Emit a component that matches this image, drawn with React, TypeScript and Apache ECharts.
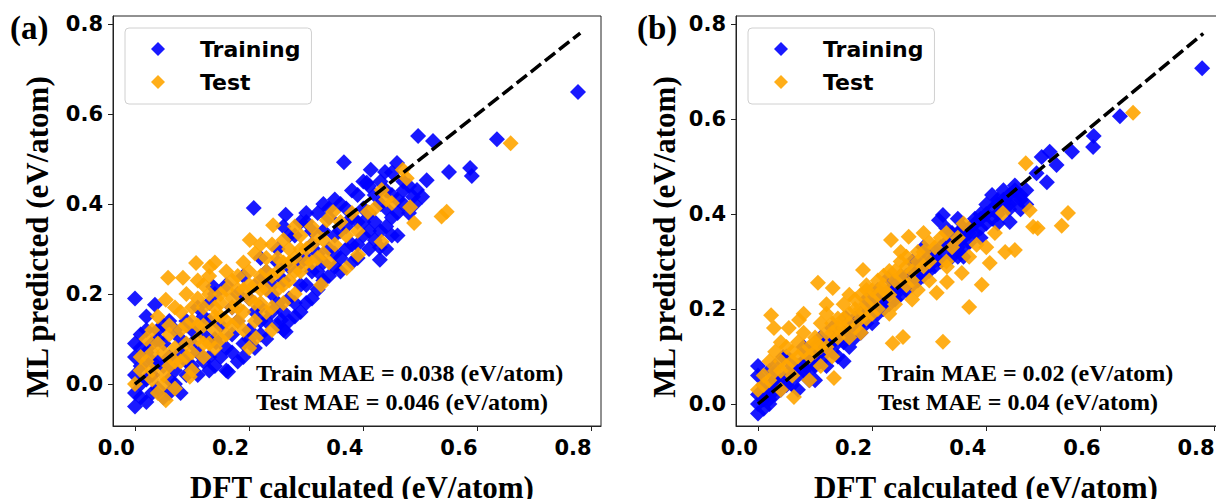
import React, { useEffect, useRef } from "react";
import * as echarts from "echarts";

// ---------- data ----------
const tickValues = [0, 0.2, 0.4, 0.6, 0.8];
const parityLine = [[0, 0], [0.78, 0.78]];
const seriesNames = ["Training", "Test"];
const maeLeft = ["Train MAE = 0.038 (eV/atom)", "Test MAE = 0.046 (eV/atom)"];
const maeRight = ["Train MAE = 0.02 (eV/atom)", "Test MAE = 0.04 (eV/atom)"];
const panelLabels = ["(a)", "(b)"];
const xTitle = "DFT calculated (eV/atom)";
const yTitle = "ML predicted (eV/atom)";

const leftTrain = [
  [0.00,-0.05],[0.01,-0.03],[0.00,-0.02],[0.02,-0.04],[0.01,0.00],[0.00,0.02],[0.01,0.04],[0.00,0.06],[0.02,0.07],[0.00,0.09],
  [0.01,0.11],[0.02,0.12],[0.00,0.19],[0.03,0.02],[0.04,-0.01],[0.05,-0.03],[0.06,0.01],[0.06,-0.02],[0.04,0.05],[0.05,0.09],
  [0.035,0.176],[0.08,-0.02],[0.07,0.03],[0.09,0.02],[0.10,0.04],[0.08,0.10],[0.10,0.12],[0.11,0.07],[0.12,0.05],[0.13,0.03],
  [0.12,0.15],[0.13,0.18],[0.14,0.10],[0.15,0.06],[0.16,0.08],[0.17,0.11],[0.163,0.027],[0.18,0.05],[0.18,0.14],[0.19,0.09],
  [0.20,0.12],[0.21,0.16],[0.21,0.08],[0.22,0.11],[0.23,0.14],[0.24,0.20],[0.25,0.13],[0.26,0.12],[0.26,0.16],[0.27,0.19],
  [0.28,0.15],[0.29,0.22],[0.30,0.18],[0.31,0.25],[0.30,0.28],[0.32,0.21],[0.33,0.23],[0.34,0.30],[0.35,0.26],[0.35,0.33],
  [0.36,0.28],[0.37,0.35],[0.38,0.31],[0.38,0.27],[0.39,0.36],[0.40,0.33],[0.40,0.39],[0.41,0.30],[0.42,0.36],[0.42,0.42],
  [0.43,0.34],[0.44,0.39],[0.44,0.30],[0.45,0.37],[0.46,0.41],[0.46,0.33],[0.47,0.43],[0.48,0.38],[0.429,0.304],[0.429,0.276],
  [0.494,0.431],[0.503,0.416],[0.511,0.453],[0.487,0.416],[0.413,0.476],[0.438,0.471],[0.406,0.447],[0.459,0.491],[0.366,0.493],[0.496,0.551],
  [0.522,0.540],[0.550,0.471],[0.587,0.480],[0.590,0.462],[0.634,0.544],[0.776,0.649],[0.208,0.391],[0.264,0.376],[0.264,0.116],[0.256,0.142],
  [0.22,0.28],[0.25,0.30],[0.28,0.33],[0.30,0.36],[0.32,0.38],[0.34,0.37],[0.36,0.40],[0.33,0.34],[0.27,0.26],[0.23,0.25],
  [0.19,0.24],[0.16,0.22],[0.14,0.20],[0.11,0.17],[0.09,0.14],[0.07,0.12],[0.05,0.13],[0.03,0.09],[0.06,0.06],[0.15,0.13],
  [0.24,0.22],[0.29,0.27],[0.31,0.31],[0.37,0.39],[0.39,0.42],[0.41,0.44],[0.43,0.45],[0.45,0.47],[0.47,0.45],[0.35,0.41],
  [0.32,0.29],[0.26,0.23],[0.20,0.19],[0.17,0.17],[0.12,0.11],[0.08,0.07],[0.219,0.171],[0.142,0.093],[0.137,0.216],
  [0.02,0.01],[0.03,-0.02],[0.01,0.08],[0.03,0.05],[0.04,0.10],[0.05,0.04],[0.07,0.00],[0.09,0.05],[0.11,0.02],[0.13,0.06],
  [0.14,0.04],[0.16,0.03],[0.17,0.07],[0.19,0.06],[0.20,0.10],[0.22,0.14],[0.23,0.10],[0.24,0.16],[0.25,0.18],[0.27,0.14],
  [0.28,0.18],[0.29,0.16],[0.30,0.22],[0.31,0.19],[0.32,0.25],[0.33,0.27],[0.34,0.24],[0.35,0.29],[0.36,0.25],[0.36,0.34],
  [0.37,0.30],[0.38,0.37],[0.39,0.31],[0.39,0.28],[0.40,0.36],[0.41,0.34],[0.41,0.38],[0.42,0.32],[0.43,0.40],[0.44,0.35],
  [0.45,0.42],[0.45,0.33],[0.46,0.38],[0.47,0.40],[0.48,0.44],[0.49,0.40],[0.44,0.43],[0.40,0.45],[0.38,0.43],[0.34,0.39],
  [0.31,0.34],[0.33,0.40],[0.29,0.36],[0.27,0.33],[0.25,0.27],[0.22,0.23],[0.18,0.20],[0.10,0.09],[0.13,0.14],[0.06,0.14],
  [0.04,0.12],[0.02,0.15],[0.30,0.38],[0.26,0.35]
];

const leftTest = [
  [0.00,0.00],[0.01,0.03],[0.02,0.05],[0.03,0.01],[0.054,-0.036],[0.04,-0.02],[0.07,-0.01],[0.096,0.016],[0.06,0.04],[0.05,0.07],
  [0.07,0.08],[0.08,0.05],[0.09,0.09],[0.10,0.07],[0.11,0.10],[0.10,0.14],[0.12,0.13],[0.13,0.09],[0.14,0.12],[0.15,0.15],
  [0.14,0.17],[0.16,0.14],[0.17,0.19],[0.18,0.17],[0.18,0.21],[0.19,0.16],[0.20,0.19],[0.21,0.22],[0.22,0.18],[0.22,0.24],
  [0.23,0.21],[0.24,0.17],[0.25,0.25],[0.25,0.21],[0.26,0.27],[0.27,0.23],[0.28,0.28],[0.28,0.20],[0.29,0.25],[0.30,0.30],
  [0.31,0.27],[0.32,0.33],[0.33,0.29],[0.326,0.22],[0.212,0.102],[0.054,0.187],[0.058,0.236],[0.084,0.236],[0.107,0.269],[0.131,0.26],
  [0.201,0.32],[0.242,0.353],[0.336,0.364],[0.347,0.382],[0.408,0.382],[0.432,0.316],[0.391,0.287],[0.371,0.258],[0.432,0.431],[0.450,0.402],
  [0.469,0.476],[0.476,0.457],[0.482,0.393],[0.489,0.358],[0.537,0.372],[0.546,0.383],[0.658,0.535],[0.03,0.12],[0.04,0.15],[0.06,0.11],
  [0.08,0.16],[0.09,0.20],[0.11,0.19],[0.12,0.22],[0.13,0.24],[0.15,0.20],[0.16,0.25],[0.17,0.23],[0.19,0.27],[0.20,0.25],
  [0.21,0.29],[0.23,0.28],[0.24,0.31],[0.26,0.32],[0.27,0.30],[0.29,0.33],[0.31,0.35],[0.15,0.10],[0.17,0.13],[0.19,0.12],
  [0.21,0.14],[0.10,0.03],[0.12,0.06],[0.05,0.02],[0.02,0.10],[0.35,0.31],[0.37,0.33],[0.39,0.34],[0.34,0.27],[0.20,0.08],
  [0.24,0.12],
  [0.01,0.06],[0.03,0.07],[0.04,0.09],[0.06,0.13],[0.07,0.17],[0.08,0.12],[0.09,0.13],[0.10,0.17],[0.11,0.13],[0.12,0.17],
  [0.13,0.20],[0.14,0.15],[0.15,0.18],[0.16,0.21],[0.17,0.17],[0.18,0.24],[0.19,0.21],[0.20,0.22],[0.21,0.18],[0.22,0.21],
  [0.23,0.25],[0.24,0.24],[0.25,0.28],[0.26,0.22],[0.27,0.27],[0.28,0.25],[0.29,0.30],[0.30,0.27],[0.31,0.31],[0.32,0.28],
  [0.33,0.32],[0.18,0.14],[0.16,0.11],[0.14,0.08],[0.12,0.09],[0.09,0.06],[0.07,0.05],[0.03,0.03],[0.05,0.00],[0.36,0.36],
  [0.38,0.38],[0.42,0.39],[0.44,0.41],[0.28,0.35],[0.22,0.31],[0.14,0.27],[0.11,0.23],[0.26,0.18],[0.23,0.16]
];

const rightTrain = [
  [0.00,-0.02],[0.00,0.00],[0.01,-0.01],[0.00,0.02],[0.01,0.01],[0.02,0.00],[0.01,0.04],[0.00,0.06],[0.02,0.03],[0.03,0.02],
  [0.00,0.08],[0.02,0.07],[0.03,0.05],[0.04,0.03],[0.044,0.099],[0.05,0.06],[0.06,0.04],[0.06,0.08],[0.07,0.06],[0.08,0.09],
  [0.09,0.07],[0.10,0.10],[0.10,0.12],[0.11,0.09],[0.12,0.13],[0.13,0.11],[0.14,0.15],[0.15,0.13],[0.154,0.181],[0.16,0.16],
  [0.17,0.14],[0.18,0.19],[0.19,0.17],[0.20,0.21],[0.21,0.19],[0.22,0.23],[0.229,0.265],[0.23,0.21],[0.24,0.25],[0.25,0.23],
  [0.26,0.27],[0.27,0.25],[0.28,0.29],[0.29,0.27],[0.30,0.31],[0.30,0.28],[0.31,0.32],[0.317,0.387],[0.324,0.398],[0.32,0.30],
  [0.33,0.34],[0.34,0.31],[0.34,0.36],[0.35,0.33],[0.36,0.35],[0.36,0.31],[0.37,0.37],[0.37,0.34],[0.38,0.39],[0.38,0.36],
  [0.39,0.40],[0.39,0.37],[0.40,0.38],[0.40,0.42],[0.41,0.41],[0.41,0.44],[0.42,0.43],[0.42,0.40],[0.43,0.45],[0.43,0.42],
  [0.44,0.44],[0.441,0.383],[0.45,0.43],[0.45,0.46],[0.46,0.41],[0.46,0.44],[0.47,0.42],[0.488,0.486],[0.497,0.52],[0.506,0.467],
  [0.511,0.531],[0.523,0.503],[0.55,0.531],[0.588,0.564],[0.587,0.541],[0.634,0.606],[0.778,0.707],[0.33,0.37],[0.35,0.39],[0.29,0.33],
  [0.27,0.30],[0.25,0.27],[0.21,0.24],[0.19,0.22],[0.17,0.18],[0.13,0.16],[0.11,0.14],[0.08,0.12],[0.05,0.10],[0.03,0.08],
  [0.07,0.03],[0.09,0.05],[0.12,0.08],[0.14,0.10],[0.16,0.12],[0.18,0.15],[0.20,0.17],[0.22,0.20],[0.24,0.22],[0.26,0.24],
  [0.28,0.26],[0.31,0.29],[0.15,0.09],[0.10,0.05],
  [0.01,0.02],[0.02,0.01],[0.03,0.03],[0.04,0.05],[0.05,0.04],[0.06,0.07],[0.07,0.08],[0.08,0.07],[0.09,0.09],[0.10,0.08],
  [0.11,0.11],[0.12,0.11],[0.13,0.13],[0.14,0.13],[0.15,0.15],[0.16,0.14],[0.17,0.17],[0.18,0.17],[0.19,0.19],[0.20,0.19],
  [0.21,0.21],[0.22,0.22],[0.23,0.24],[0.24,0.23],[0.25,0.25],[0.26,0.26],[0.27,0.28],[0.28,0.27],[0.29,0.30],[0.30,0.29],
  [0.31,0.31],[0.32,0.33],[0.33,0.32],[0.34,0.34],[0.35,0.36],[0.35,0.31],[0.36,0.37],[0.37,0.36],[0.38,0.38],[0.39,0.39],
  [0.40,0.40],[0.41,0.39],[0.42,0.42],[0.43,0.43],[0.44,0.42],[0.45,0.45],[0.46,0.43],[0.47,0.45],[0.44,0.41],[0.42,0.38],
  [0.39,0.35],[0.36,0.33]
];

const rightTest = [
  [0.00,0.03],[0.01,0.06],[0.02,0.09],[0.02,0.05],[0.03,0.11],[0.023,0.187],[0.028,0.16],[0.054,0.16],[0.072,0.177],[0.04,0.07],
  [0.05,0.12],[0.06,0.09],[0.063,0.015],[0.07,0.13],[0.08,0.11],[0.08,0.15],[0.09,0.10],[0.10,0.14],[0.105,0.255],[0.11,0.17],
  [0.12,0.12],[0.12,0.19],[0.131,0.244],[0.133,0.055],[0.13,0.15],[0.14,0.18],[0.15,0.21],[0.15,0.16],[0.16,0.19],[0.17,0.22],
  [0.17,0.16],[0.18,0.20],[0.184,0.282],[0.19,0.24],[0.19,0.18],[0.20,0.22],[0.21,0.26],[0.21,0.20],[0.22,0.24],[0.23,0.28],
  [0.233,0.345],[0.236,0.128],[0.24,0.21],[0.24,0.26],[0.254,0.141],[0.25,0.30],[0.26,0.25],[0.264,0.352],[0.27,0.28],[0.28,0.32],
  [0.28,0.24],[0.29,0.29],[0.30,0.34],[0.30,0.26],[0.313,0.234],[0.324,0.131],[0.331,0.257],[0.331,0.289],[0.357,0.276],[0.37,0.204],
  [0.383,0.335],[0.392,0.251],[0.406,0.297],[0.415,0.36],[0.429,0.402],[0.433,0.32],[0.45,0.324],[0.469,0.507],[0.476,0.408],[0.482,0.373],
  [0.49,0.37],[0.532,0.375],[0.543,0.402],[0.657,0.613],[0.32,0.35],[0.34,0.33],[0.36,0.38],[0.30,0.30],[0.26,0.29],[0.22,0.27],
  [0.18,0.23],[0.14,0.14],[0.10,0.11],[0.06,0.06],[0.04,0.03],[0.11,0.08],[0.16,0.14],[0.20,0.19],[0.27,0.22],
  [0.01,0.04],[0.03,0.07],[0.04,0.09],[0.05,0.08],[0.06,0.11],[0.07,0.10],[0.09,0.12],[0.10,0.13],[0.11,0.12],[0.12,0.15],
  [0.13,0.17],[0.14,0.16],[0.15,0.18],[0.16,0.17],[0.17,0.20],[0.18,0.18],[0.19,0.21],[0.20,0.24],[0.21,0.23],[0.22,0.25],
  [0.23,0.23],[0.24,0.28],[0.25,0.27],[0.26,0.31],[0.27,0.26],[0.28,0.30],[0.29,0.32],[0.31,0.33],[0.33,0.36],[0.35,0.35],
  [0.08,0.19],[0.04,0.13],[0.16,0.23],[0.12,0.21],[0.19,0.25],[0.25,0.32],[0.29,0.36],[0.33,0.30],[0.37,0.31],[0.40,0.33],
  [0.23,0.19],[0.18,0.15],[0.13,0.10],[0.09,0.05]
];

// ---------- styling ----------
const BLUE = "#0000ff";
const ORANGE = "#ffa500";
const SANS = "DejaVu Sans";
const SERIF = "Liberation Serif";

function makeAxis(kind: "x" | "y", idx: number, min: number, max: number) {
  return {
    type: "value",
    gridIndex: idx,
    min,
    max,
    splitLine: { show: false },
    axisLine: { show: true, onZero: false, lineStyle: { color: "#222", width: 1 } },
    axisTick: { show: true, inside: false, length: 5, lineStyle: { color: "#222", width: 1 }, customValues: tickValues },
    axisLabel: {
      customValues: tickValues,
      formatter: (v: number) => v.toFixed(1),
      fontFamily: SANS,
      fontWeight: "bold",
      fontSize: 21,
      color: "#000",
      margin: kind === "x" ? 11 : 10,
      align: kind === "x" ? "right" : undefined,
    },
  };
}

function makeLegend(left: number) {
  return {
    data: seriesNames,
    orient: "vertical",
    left,
    top: 28,
    padding: [10, 11, 11, 26],
    itemGap: 11,
    itemWidth: 14,
    itemHeight: 14,
    icon: "diamond",
    backgroundColor: "rgba(255,255,255,0.8)",
    borderColor: "#d0d0d0",
    borderWidth: 1,
    borderRadius: 4,
    selectedMode: false,
    textStyle: {
      fontFamily: SANS,
      fontWeight: "bold",
      fontSize: 22,
      lineHeight: 22,
      color: "#000",
      padding: [0, 0, 0, 30],
    },
  };
}

function scatter(name: string, data: number[][], idx: number, color: string) {
  return {
    type: "scatter",
    name,
    xAxisIndex: idx,
    yAxisIndex: idx,
    data,
    symbol: "diamond",
    symbolSize: 16,
    itemStyle: { color, opacity: 0.9 },
    emphasis: { disabled: true },
  };
}

function parity(idx: number) {
  return {
    type: "line",
    xAxisIndex: idx,
    yAxisIndex: idx,
    data: parityLine,
    symbol: "none",
    lineStyle: { color: "#000", width: 3.5, type: [13, 5] },
    z: 5,
    emphasis: { disabled: true },
  };
}

function text(str: string, x: number, y: number, size: number, opts: any = {}) {
  return {
    type: "text",
    x,
    y,
    rotation: opts.rotation || 0,
    style: {
      text: str,
      fontFamily: SERIF,
      fontWeight: "bold",
      fontSize: size,
      fill: "#000",
      align: opts.align || "left",
      verticalAlign: "middle",
    },
    z: 10,
  };
}

export default function App() {
  const ref = useRef<HTMLDivElement>(null);
  useEffect(() => {
    if (!ref.current) return;
    const chart = echarts.init(ref.current, undefined, { renderer: "svg" });
    const option: any = {
      animation: false,
      backgroundColor: "#fff",
      grid: [
        { left: 113, top: 16, width: 488, height: 410, show: true, borderColor: "#222", borderWidth: 1 },
        { left: 736, top: 16, width: 488, height: 410, show: true, borderColor: "#222", borderWidth: 1 },
      ],
      xAxis: [makeAxis("x", 0, -0.0385, 0.8163), makeAxis("x", 1, -0.0385, 0.8163)],
      yAxis: [makeAxis("y", 0, -0.0933, 0.8178), makeAxis("y", 1, -0.0463, 0.8168)],
      legend: [makeLegend(125), makeLegend(748)],
      series: [
        scatter("Training", leftTrain, 0, BLUE),
        scatter("Test", leftTest, 0, ORANGE),
        parity(0),
        scatter("Training", rightTrain, 1, BLUE),
        scatter("Test", rightTest, 1, ORANGE),
        parity(1),
      ],
      graphic: [
        text(panelLabels[0], 10, 28, 33),
        text(panelLabels[1], 637, 28, 33),
        text(maeLeft[0], 256, 373, 24),
        text(maeLeft[1], 256, 402, 24),
        text(maeRight[0], 878, 373, 24),
        text(maeRight[1], 878, 402, 24),
        text(xTitle, 362, 487, 31, { align: "center" }),
        text(xTitle, 986, 487, 31, { align: "center" }),
        text(yTitle, 37.5, 237, 31, { align: "center", rotation: Math.PI / 2 }),
        text(yTitle, 664.5, 237, 31, { align: "center", rotation: Math.PI / 2 }),
      ],
    };
    chart.setOption(option);
    return () => chart.dispose();
  }, []);
  return (
    <div style={{ position: "fixed", left: 0, top: 0, width: 1216, height: 499, overflow: "hidden", background: "#fff" }}>
      <div ref={ref} style={{ width: 1232, height: 499 }} />
    </div>
  );
}
